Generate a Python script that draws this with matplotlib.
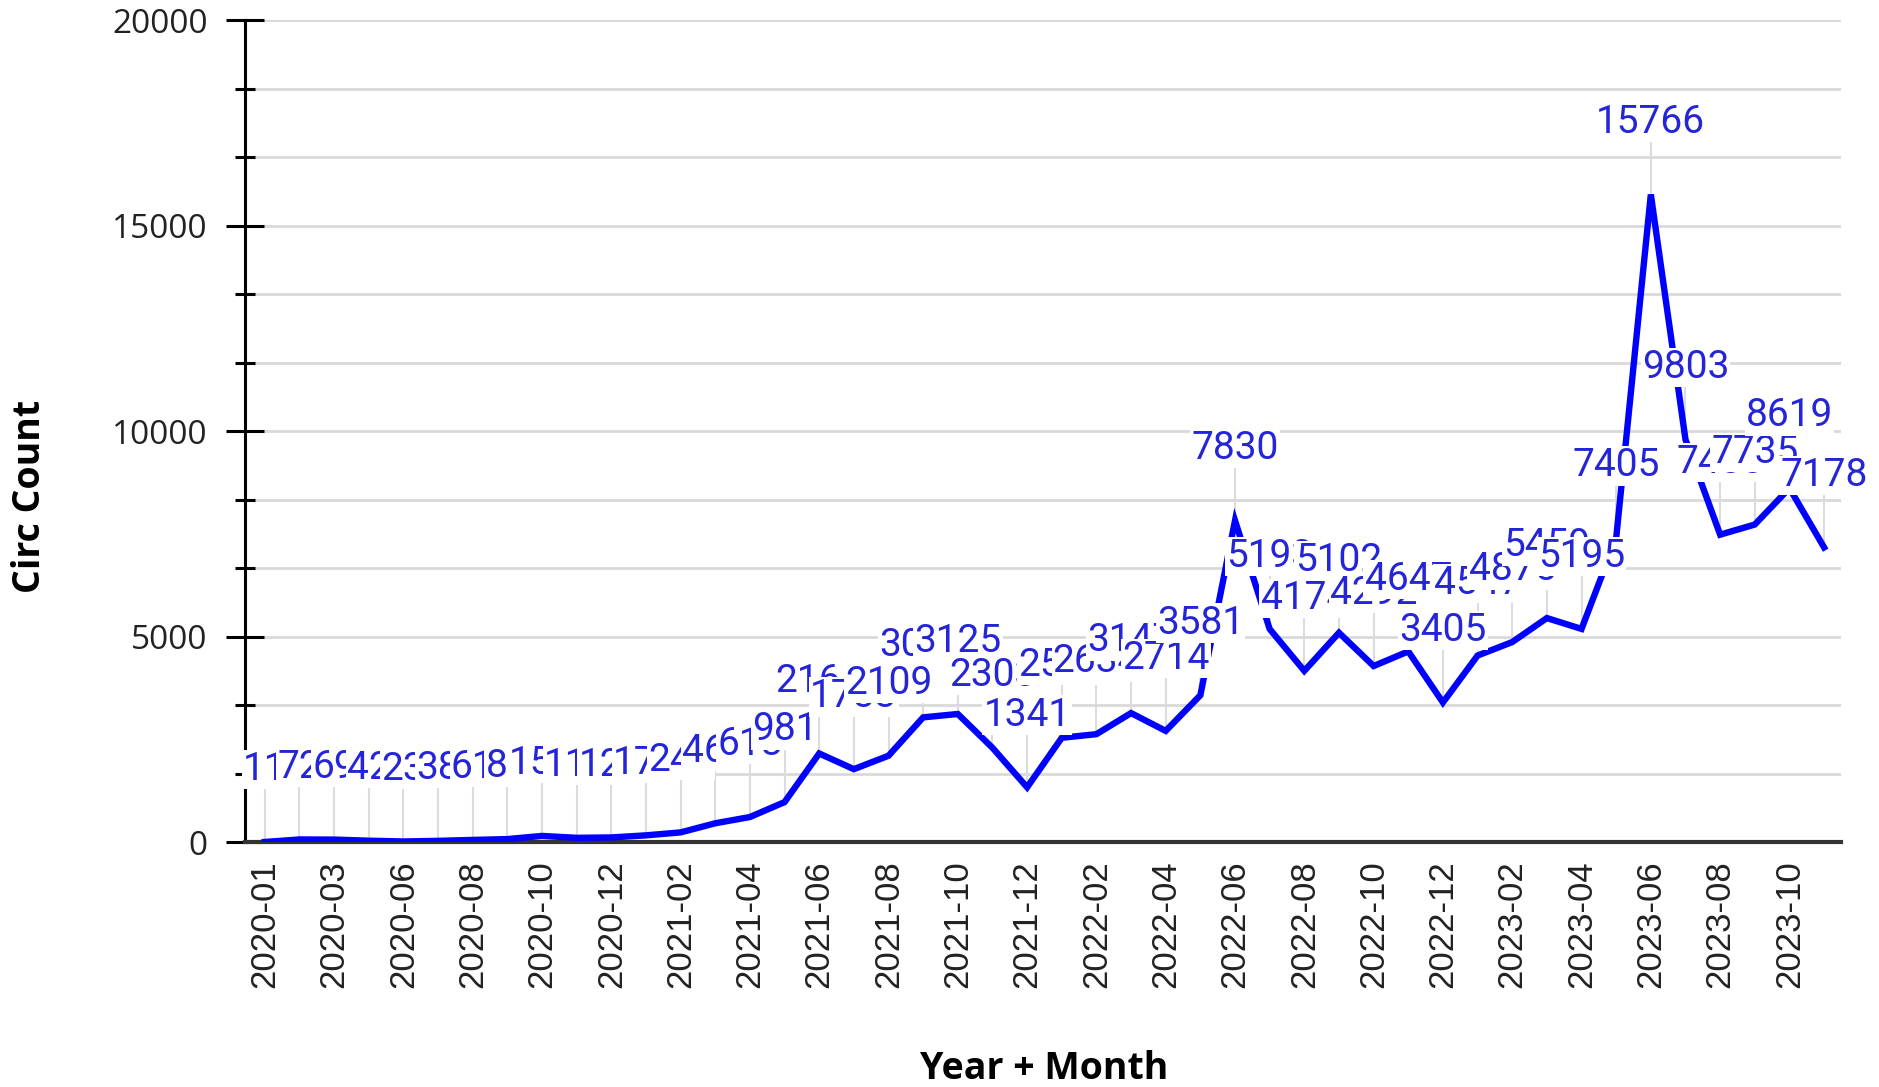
import numpy as np
import matplotlib.pyplot as plt
from matplotlib.ticker import MultipleLocator

months = ["2020-01", "2020-02", "2020-03", "2020-05", "2020-06", "2020-07",
          "2020-08", "2020-09", "2020-10", "2020-11", "2020-12",
          "2021-01", "2021-02", "2021-03", "2021-04", "2021-05", "2021-06",
          "2021-07", "2021-08", "2021-09", "2021-10", "2021-11", "2021-12",
          "2022-01", "2022-02", "2022-03", "2022-04", "2022-05", "2022-06",
          "2022-07", "2022-08", "2022-09", "2022-10", "2022-11", "2022-12",
          "2023-01", "2023-02", "2023-03", "2023-04", "2023-05", "2023-06",
          "2023-07", "2023-08", "2023-09", "2023-10", "2023-11"]
circ = [11, 72, 69, 42, 23, 38, 61, 81, 158, 112, 121, 172, 244, 466, 618, 981,
        2164, 1783, 2109, 3043, 3125, 2303, 1341, 2546, 2634, 3147, 2714, 3581,
        7830, 5193, 4174, 5102, 4292, 4647, 3405, 4547, 4875, 5459, 5195, 7405,
        15766, 9803, 7488, 7735, 8619, 7178]

fig = plt.figure(figsize=(18.79, 10.87), dpi=100)
ax = fig.add_axes([0.1304, 0.225, 0.8496, 0.7562])

X = np.arange(len(months))
vals = np.array(circ)

# faint leader lines from point up to its label
ax.vlines(X, vals, vals + 1350, color='#dcdcdc', lw=1.5, zorder=1)
ax.plot(X, vals, color='#0000ff', lw=4.6, zorder=3, solid_joinstyle='miter')

for i, (x, v) in enumerate(zip(X, vals)):
    ax.annotate(str(v), (x, v), xytext=(0, 52), textcoords='offset points',
                ha='center', va='center', fontsize=28, color='#2424d8',
                family='Roboto', zorder=4 + i * 0.01,
                bbox=dict(boxstyle='square,pad=0.03', fc='white', ec='none'))

ax.set_xlim(-0.57, 45.5)
ax.set_ylim(0, 20000)
ax.yaxis.set_major_locator(MultipleLocator(5000))
ax.yaxis.set_minor_locator(MultipleLocator(5000 / 3))
ax.grid(True, axis='y', which='both', color='#d9d9d9', lw=2, zorder=0)
ax.set_axisbelow(True)

ax.set_xticks(X[::2])
ax.set_xticklabels(months[::2], rotation=90, fontsize=25,
                   family='Liberation Sans', color='#222222')
ax.tick_params(axis='x', length=0, pad=13)
ax.tick_params(axis='y', which='major', direction='inout', length=28,
               width=2.2, pad=13, labelsize=24, labelcolor='#222222')
ax.tick_params(axis='y', which='minor', direction='inout', length=14, width=2.2)
for lab in ax.get_yticklabels():
    lab.set_family('Open Sans')

for s in ['top', 'right']:
    ax.spines[s].set_visible(False)
ax.spines['left'].set_linewidth(2.2)
ax.spines['bottom'].set_linewidth(3)
ax.spines['bottom'].set_color('#333333')

fig.text(30 / 1879, 1 - 496 / 1087, 'Circ Count', rotation=90, ha='center',
         va='center', fontsize=27, fontweight='bold', family='Open Sans')
fig.text(1044 / 1879, 1 - 1069 / 1087, 'Year + Month', ha='center',
         va='center', fontsize=27, fontweight='bold', family='Open Sans')

fig.savefig('out.png', dpi=100)
